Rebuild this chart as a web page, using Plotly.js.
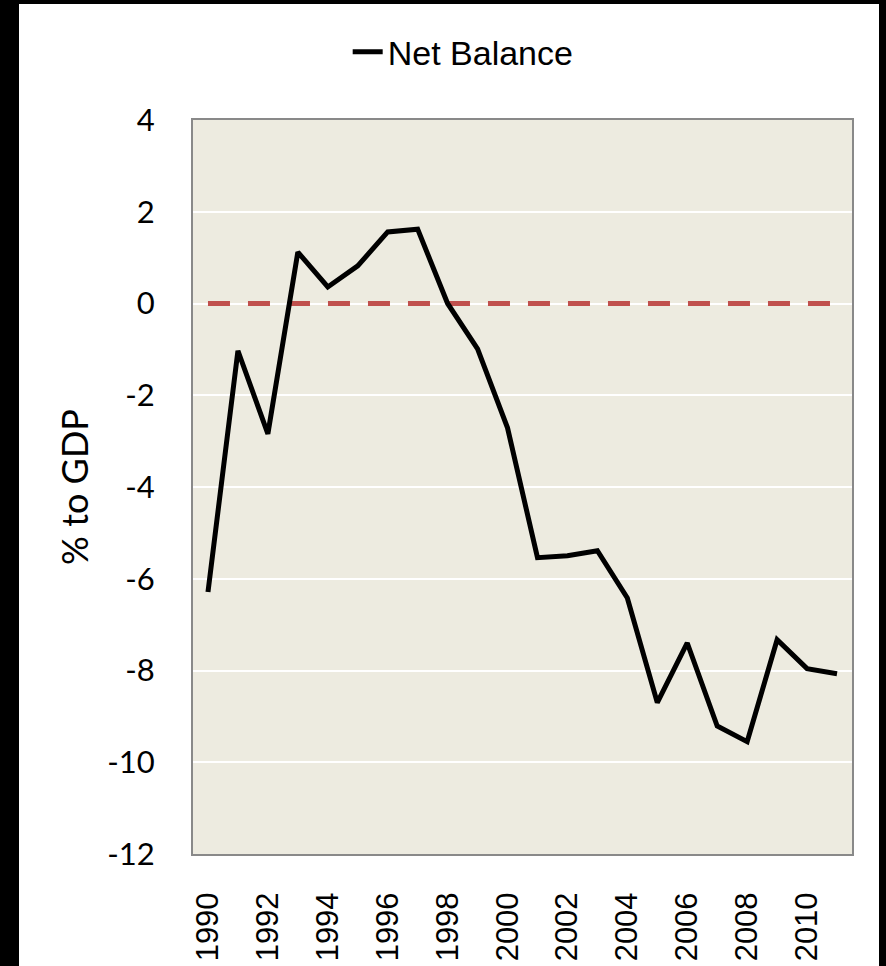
<!DOCTYPE html>
<html>
<head>
<meta charset="utf-8">
<script src="https://cdn.plot.ly/plotly-3.0.1.min.js"></script>
<style>
  html, body { margin: 0; padding: 0; background: #000; width: 886px; height: 966px; overflow: hidden; }
  #chart { position: absolute; left: 19px; top: 4px; width: 860px; height: 962px; background: #fff; }
</style>
</head>
<body>
<div id="chart"></div>
<script>
const years = [1990,1991,1992,1993,1994,1995,1996,1997,1998,1999,2000,2001,2002,2003,2004,2005,2006,2007,2008,2009,2010,2011];
const netBalance = [-6.29,-1.03,-2.84,1.12,0.36,0.82,1.56,1.62,0.0,-0.99,-2.71,-5.54,-5.50,-5.39,-6.42,-8.70,-7.40,-9.21,-9.55,-7.33,-7.96,-8.07];
const zeroLine = years.map(() => 0);
const xTicks = [1990,1992,1994,1996,1998,2000,2002,2004,2006,2008,2010];
const yTicks = [4,2,0,-2,-4,-6,-8,-10,-12];

const traces = [
  {
    x: years, y: zeroLine, type: 'scatter', mode: 'lines',
    line: { color: '#C0504D', width: 5, dash: '22px,18px' },
    showlegend: false, hoverinfo: 'skip'
  },
  {
    x: years, y: netBalance, type: 'scatter', mode: 'lines', name: 'Net Balance',
    line: { color: '#000000', width: 5 }
  }
];

const layout = {
  width: 860, height: 962,
  margin: { l: 174, r: 27, t: 116, b: 112 },
  paper_bgcolor: '#ffffff',
  plot_bgcolor: '#EDEBE0',
  showlegend: true,
  legend: {
    orientation: 'h', x: 0.41, xanchor: 'center', y: 1.0926, yanchor: 'middle',
    font: { family: 'Liberation Sans, Arial, sans-serif', size: 34, color: '#000' },
    bgcolor: 'rgba(0,0,0,0)'
  },
  xaxis: {
    range: [1989.5, 2011.5],
    tickvals: xTicks, ticktext: xTicks.map(String),
    tickangle: -90,
    tickfont: { family: 'Liberation Sans, Arial, sans-serif', size: 31, color: '#000' },
    ticks: 'outside', ticklen: 24, tickcolor: 'rgba(0,0,0,0)',
    showgrid: false, zeroline: false,
    showline: true, mirror: true, linecolor: '#898989', linewidth: 2
  },
  yaxis: {
    range: [-12, 4],
    tickvals: yTicks, ticktext: yTicks.map(String),
    tickfont: { family: 'Lato, sans-serif', size: 31, color: '#000' },
    ticks: 'outside', ticklen: 30, tickcolor: 'rgba(0,0,0,0)',
    showgrid: true, gridcolor: '#ffffff', gridwidth: 2,
    zeroline: false,
    showline: true, mirror: true, linecolor: '#898989', linewidth: 2,
    title: { text: '% to GDP', font: { family: 'Lato, sans-serif', size: 36, color: '#000' }, standoff: 8 }
  }
};

Plotly.newPlot('chart', traces, layout, { displayModeBar: false, staticPlot: true });
</script>
</body>
</html>
